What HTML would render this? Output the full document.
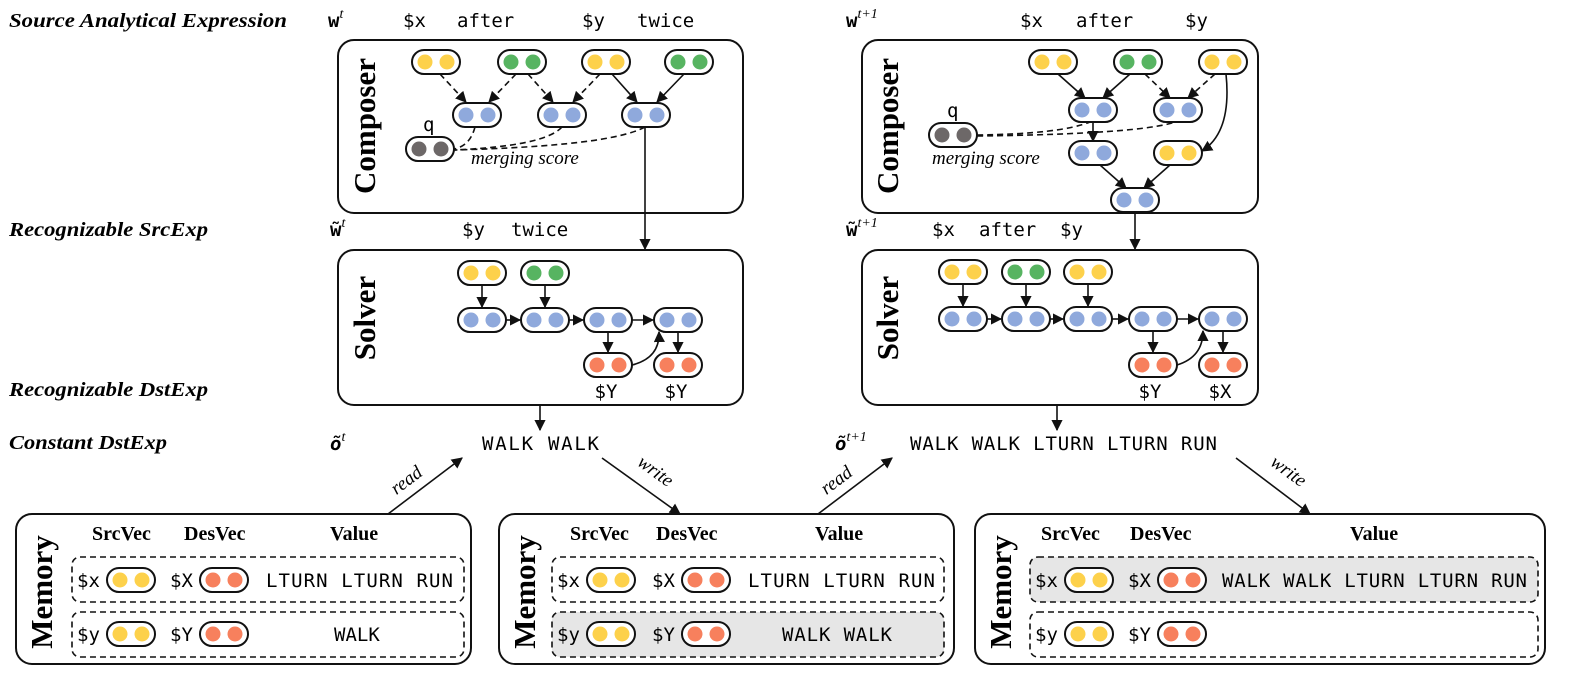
<!DOCTYPE html>
<html><head><meta charset="utf-8"><style>
html,body{margin:0;padding:0;background:#fff;}
svg{display:block;}
.lab{font-family:"Liberation Serif",serif;font-style:italic;font-weight:bold;font-size:20px;}
.mono{font-family:"DejaVu Sans Mono","Liberation Mono",monospace;font-size:19px;}
.vt{font-family:"Liberation Serif",serif;font-weight:bold;font-size:31px;}
.hd{font-family:"Liberation Serif",serif;font-weight:bold;font-size:20px;}
.it{font-family:"Liberation Serif",serif;font-style:italic;font-size:19px;}
.box{fill:#fff;stroke:#111;stroke-width:2;}
.e{stroke:#111;stroke-width:1.6;fill:none;}
.d{stroke:#111;stroke-width:1.6;fill:none;stroke-dasharray:6 4;}
.sup{font-family:"Liberation Serif",serif;font-style:italic;font-size:14px;font-weight:normal;}
</style></head><body>
<svg width="1593" height="688" viewBox="0 0 1593 688" xmlns="http://www.w3.org/2000/svg">
<defs>
<marker id="a" viewBox="0 0 10 10" refX="9" refY="5" markerWidth="7" markerHeight="7" orient="auto"><path d="M0,0 L10,5 L0,10 z" fill="#111"/></marker>
<g id="pY"><rect x="-24" y="-12" width="48" height="24" rx="12" fill="#fff" stroke="#111" stroke-width="2"/><circle cx="-11" cy="0" r="7.5" fill="#fdd14b"/><circle cx="11" cy="0" r="7.5" fill="#fdd14b"/></g>
<g id="pG"><rect x="-24" y="-12" width="48" height="24" rx="12" fill="#fff" stroke="#111" stroke-width="2"/><circle cx="-11" cy="0" r="7.5" fill="#57b461"/><circle cx="11" cy="0" r="7.5" fill="#57b461"/></g>
<g id="pB"><rect x="-24" y="-12" width="48" height="24" rx="12" fill="#fff" stroke="#111" stroke-width="2"/><circle cx="-11" cy="0" r="7.5" fill="#8fa9dc"/><circle cx="11" cy="0" r="7.5" fill="#8fa9dc"/></g>
<g id="pR"><rect x="-24" y="-12" width="48" height="24" rx="12" fill="#fff" stroke="#111" stroke-width="2"/><circle cx="-11" cy="0" r="7.5" fill="#f7805d"/><circle cx="11" cy="0" r="7.5" fill="#f7805d"/></g>
<g id="pQ"><rect x="-24" y="-12" width="48" height="24" rx="12" fill="#fff" stroke="#111" stroke-width="2"/><circle cx="-11" cy="0" r="7.5" fill="#6d6868"/><circle cx="11" cy="0" r="7.5" fill="#6d6868"/></g>
</defs>

<!-- left labels -->
<text class="lab" x="9" y="27" textLength="278" lengthAdjust="spacingAndGlyphs">Source Analytical Expression</text>
<text class="lab" x="9" y="236" textLength="199" lengthAdjust="spacingAndGlyphs">Recognizable SrcExp</text>
<text class="lab" x="9" y="396" textLength="199" lengthAdjust="spacingAndGlyphs">Recognizable DstExp</text>
<text class="lab" x="9" y="449" textLength="158" lengthAdjust="spacingAndGlyphs">Constant DstExp</text>

<!-- top tokens -->
<text class="mono" x="328" y="27" font-weight="bold">w<tspan class="sup" dy="-9">t</tspan></text>
<text class="mono" x="403" y="27">$x</text>
<text class="mono" x="457" y="27">after</text>
<text class="mono" x="582" y="27">$y</text>
<text class="mono" x="637" y="27">twice</text>
<text class="mono" x="846" y="27" font-weight="bold">w<tspan class="sup" dy="-9">t+1</tspan></text>
<text class="mono" x="1020" y="27">$x</text>
<text class="mono" x="1076" y="27">after</text>
<text class="mono" x="1185" y="27">$y</text>

<!-- Left composer -->
<rect class="box" x="338" y="40" width="405" height="173" rx="16"/>
<text class="vt" transform="translate(375,126) rotate(-90)" text-anchor="middle">Composer</text>
<line class="d" x1="440" y1="74" x2="466" y2="102" marker-end="url(#a)"/>
<line class="d" x1="516" y1="74" x2="489" y2="102" marker-end="url(#a)"/>
<line class="d" x1="528" y1="74" x2="553" y2="102" marker-end="url(#a)"/>
<line class="d" x1="600" y1="74" x2="573" y2="102" marker-end="url(#a)"/>
<line class="e" x1="612" y1="74" x2="637" y2="102" marker-end="url(#a)"/>
<line class="e" x1="684" y1="74" x2="657" y2="102" marker-end="url(#a)"/>
<path class="d" d="M475,127 Q470,146 454,149"/>
<path class="d" d="M562,127 Q545,146 454,150"/>
<path class="d" d="M645,127 Q610,146 454,150"/>
<line class="e" x1="645" y1="127" x2="645" y2="249" marker-end="url(#a)"/>
<use href="#pY" x="436" y="62"/><use href="#pG" x="522" y="62"/><use href="#pY" x="606" y="62"/><use href="#pG" x="689" y="62"/>
<use href="#pB" x="477" y="115"/><use href="#pB" x="562" y="115"/><use href="#pB" x="646" y="115"/>
<use href="#pQ" x="430" y="149"/>
<text class="mono" x="423" y="131">q</text>
<text class="it" x="471" y="164">merging score</text>

<!-- Right composer -->
<rect class="box" x="862" y="40" width="396" height="173" rx="16"/>
<text class="vt" transform="translate(898,126) rotate(-90)" text-anchor="middle">Composer</text>
<line class="e" x1="1058" y1="74" x2="1085" y2="98" marker-end="url(#a)"/>
<line class="e" x1="1130" y1="74" x2="1103" y2="98" marker-end="url(#a)"/>
<line class="d" x1="1145" y1="74" x2="1170" y2="98" marker-end="url(#a)"/>
<line class="d" x1="1215" y1="74" x2="1188" y2="98" marker-end="url(#a)"/>
<path class="e" d="M1226,74 Q1232,132 1202,151" marker-end="url(#a)"/>
<line class="e" x1="1093" y1="122" x2="1093" y2="141" marker-end="url(#a)"/>
<line class="e" x1="1100" y1="165" x2="1126" y2="188" marker-end="url(#a)"/>
<line class="e" x1="1170" y1="165" x2="1144" y2="188" marker-end="url(#a)"/>
<path class="d" d="M977,135 Q1060,134 1090,122"/>
<path class="d" d="M977,136 Q1140,134 1175,122"/>
<line class="e" x1="1135" y1="212" x2="1135" y2="249" marker-end="url(#a)"/>
<use href="#pY" x="1053" y="62"/><use href="#pG" x="1138" y="62"/><use href="#pY" x="1223" y="62"/>
<use href="#pB" x="1093" y="110"/><use href="#pB" x="1178" y="110"/>
<use href="#pB" x="1093" y="153"/><use href="#pY" x="1178" y="153"/>
<use href="#pB" x="1135" y="200"/>
<use href="#pQ" x="953" y="135"/>
<text class="mono" x="947" y="117">q</text>
<text class="it" x="932" y="164">merging score</text>

<!-- Recognizable SrcExp row -->
<text class="mono" x="330" y="236" font-weight="bold">w̃<tspan class="sup" dy="-9">t</tspan></text>
<text class="mono" x="462" y="236">$y</text>
<text class="mono" x="511" y="236">twice</text>
<text class="mono" x="846" y="236" font-weight="bold">w̃<tspan class="sup" dy="-9">t+1</tspan></text>
<text class="mono" x="932" y="236">$x</text>
<text class="mono" x="979" y="236">after</text>
<text class="mono" x="1060" y="236">$y</text>

<!-- Left solver -->
<rect class="box" x="338" y="250" width="405" height="155" rx="16"/>
<text class="vt" transform="translate(375,318) rotate(-90)" text-anchor="middle">Solver</text>
<line class="e" x1="482" y1="285" x2="482" y2="307" marker-end="url(#a)"/>
<line class="e" x1="545" y1="285" x2="545" y2="307" marker-end="url(#a)"/>
<line class="e" x1="506" y1="320" x2="520" y2="320" marker-end="url(#a)"/>
<line class="e" x1="569" y1="320" x2="583" y2="320" marker-end="url(#a)"/>
<line class="e" x1="632" y1="320" x2="653" y2="320" marker-end="url(#a)"/>
<line class="e" x1="608" y1="332" x2="608" y2="352" marker-end="url(#a)"/>
<line class="e" x1="678" y1="332" x2="678" y2="352" marker-end="url(#a)"/>
<path class="e" d="M632,365 Q660,358 659,332" marker-end="url(#a)"/>
<use href="#pY" x="482" y="273"/><use href="#pG" x="545" y="273"/>
<use href="#pB" x="482" y="320"/><use href="#pB" x="545" y="320"/><use href="#pB" x="608" y="320"/><use href="#pB" x="678" y="320"/>
<use href="#pR" x="608" y="365"/><use href="#pR" x="678" y="365"/>
<text class="mono" x="606" y="398" text-anchor="middle">$Y</text>
<text class="mono" x="676" y="398" text-anchor="middle">$Y</text>

<!-- Right solver -->
<rect class="box" x="862" y="250" width="396" height="155" rx="16"/>
<text class="vt" transform="translate(898,318) rotate(-90)" text-anchor="middle">Solver</text>
<line class="e" x1="963" y1="284" x2="963" y2="306" marker-end="url(#a)"/>
<line class="e" x1="1026" y1="284" x2="1026" y2="306" marker-end="url(#a)"/>
<line class="e" x1="1088" y1="284" x2="1088" y2="306" marker-end="url(#a)"/>
<line class="e" x1="987" y1="319" x2="1001" y2="319" marker-end="url(#a)"/>
<line class="e" x1="1050" y1="319" x2="1063" y2="319" marker-end="url(#a)"/>
<line class="e" x1="1112" y1="319" x2="1128" y2="319" marker-end="url(#a)"/>
<line class="e" x1="1177" y1="319" x2="1198" y2="319" marker-end="url(#a)"/>
<line class="e" x1="1153" y1="331" x2="1153" y2="352" marker-end="url(#a)"/>
<line class="e" x1="1223" y1="331" x2="1223" y2="352" marker-end="url(#a)"/>
<path class="e" d="M1177,365 Q1203,357 1203,331" marker-end="url(#a)"/>
<use href="#pY" x="963" y="272"/><use href="#pG" x="1026" y="272"/><use href="#pY" x="1088" y="272"/>
<use href="#pB" x="963" y="319"/><use href="#pB" x="1026" y="319"/><use href="#pB" x="1088" y="319"/><use href="#pB" x="1153" y="319"/><use href="#pB" x="1223" y="319"/>
<use href="#pR" x="1153" y="365"/><use href="#pR" x="1223" y="365"/>
<text class="mono" x="1150" y="398" text-anchor="middle">$Y</text>
<text class="mono" x="1220" y="398" text-anchor="middle">$X</text>

<!-- down arrows -->
<line class="e" x1="540" y1="405" x2="540" y2="430" marker-end="url(#a)"/>
<line class="e" x1="1057" y1="405" x2="1057" y2="430" marker-end="url(#a)"/>

<!-- Constant DstExp -->
<text class="mono" x="330" y="450" font-weight="bold" font-style="italic">õ<tspan class="sup" dy="-9">t</tspan></text>
<text class="mono" x="482" y="450" textLength="117">WALK WALK</text>
<text class="mono" x="835" y="450" font-weight="bold" font-style="italic">õ<tspan class="sup" dy="-9">t+1</tspan></text>
<text class="mono" x="910" y="450" textLength="307">WALK WALK LTURN LTURN RUN</text>

<!-- read/write arrows -->
<line class="e" x1="388" y1="514" x2="462" y2="458" marker-end="url(#a)"/>
<text class="it" transform="translate(410,485) rotate(-37)" text-anchor="middle">read</text>
<line class="e" x1="602" y1="458" x2="680" y2="514" marker-end="url(#a)"/>
<text class="it" transform="translate(652,476) rotate(36)" text-anchor="middle">write</text>
<line class="e" x1="818" y1="514" x2="892" y2="458" marker-end="url(#a)"/>
<text class="it" transform="translate(840,485) rotate(-37)" text-anchor="middle">read</text>
<line class="e" x1="1236" y1="458" x2="1310" y2="514" marker-end="url(#a)"/>
<text class="it" transform="translate(1285,476) rotate(36)" text-anchor="middle">write</text>

<!-- Memory 1 -->
<rect class="box" x="16" y="514" width="455" height="150" rx="16"/>
<text class="vt" transform="translate(52,592) rotate(-90)" text-anchor="middle">Memory</text>
<text class="hd" x="92" y="540">SrcVec</text><text class="hd" x="184" y="540">DesVec</text><text class="hd" x="330" y="540">Value</text>
<rect class="d" x="72" y="557" width="392" height="45" rx="8"/>
<rect class="d" x="72" y="612" width="392" height="45" rx="8"/>
<text class="mono" x="77" y="587">$x</text><use href="#pY" x="131" y="580"/>
<text class="mono" x="170" y="587">$X</text><use href="#pR" x="224" y="580"/>
<text class="mono" x="266" y="587" textLength="187">LTURN LTURN RUN</text>
<text class="mono" x="77" y="641">$y</text><use href="#pY" x="131" y="634"/>
<text class="mono" x="170" y="641">$Y</text><use href="#pR" x="224" y="634"/>
<text class="mono" x="334" y="641">WALK</text>

<!-- Memory 2 -->
<rect class="box" x="499" y="514" width="455" height="150" rx="16"/>
<text class="vt" transform="translate(535,592) rotate(-90)" text-anchor="middle">Memory</text>
<text class="hd" x="570" y="540">SrcVec</text><text class="hd" x="656" y="540">DesVec</text><text class="hd" x="815" y="540">Value</text>
<rect class="d" x="552" y="557" width="392" height="45" rx="8"/>
<rect class="d" x="552" y="612" width="392" height="45" rx="8" style="fill:#e6e6e6"/>
<text class="mono" x="557" y="587">$x</text><use href="#pY" x="611" y="580"/>
<text class="mono" x="652" y="587">$X</text><use href="#pR" x="706" y="580"/>
<text class="mono" x="748" y="587" textLength="187">LTURN LTURN RUN</text>
<text class="mono" x="557" y="641">$y</text><use href="#pY" x="611" y="634"/>
<text class="mono" x="652" y="641">$Y</text><use href="#pR" x="706" y="634"/>
<text class="mono" x="782" y="641" textLength="110">WALK WALK</text>

<!-- Memory 3 -->
<rect class="box" x="975" y="514" width="570" height="150" rx="16"/>
<text class="vt" transform="translate(1011,592) rotate(-90)" text-anchor="middle">Memory</text>
<text class="hd" x="1041" y="540">SrcVec</text><text class="hd" x="1130" y="540">DesVec</text><text class="hd" x="1350" y="540">Value</text>
<rect class="d" x="1030" y="557" width="508" height="45" rx="8" style="fill:#e6e6e6"/>
<rect class="d" x="1030" y="612" width="508" height="45" rx="8"/>
<text class="mono" x="1035" y="587">$x</text><use href="#pY" x="1089" y="580"/>
<text class="mono" x="1128" y="587">$X</text><use href="#pR" x="1182" y="580"/>
<text class="mono" x="1222" y="587" textLength="305">WALK WALK LTURN LTURN RUN</text>
<text class="mono" x="1035" y="641">$y</text><use href="#pY" x="1089" y="634"/>
<text class="mono" x="1128" y="641">$Y</text><use href="#pR" x="1182" y="634"/>
</svg>
</body></html>
